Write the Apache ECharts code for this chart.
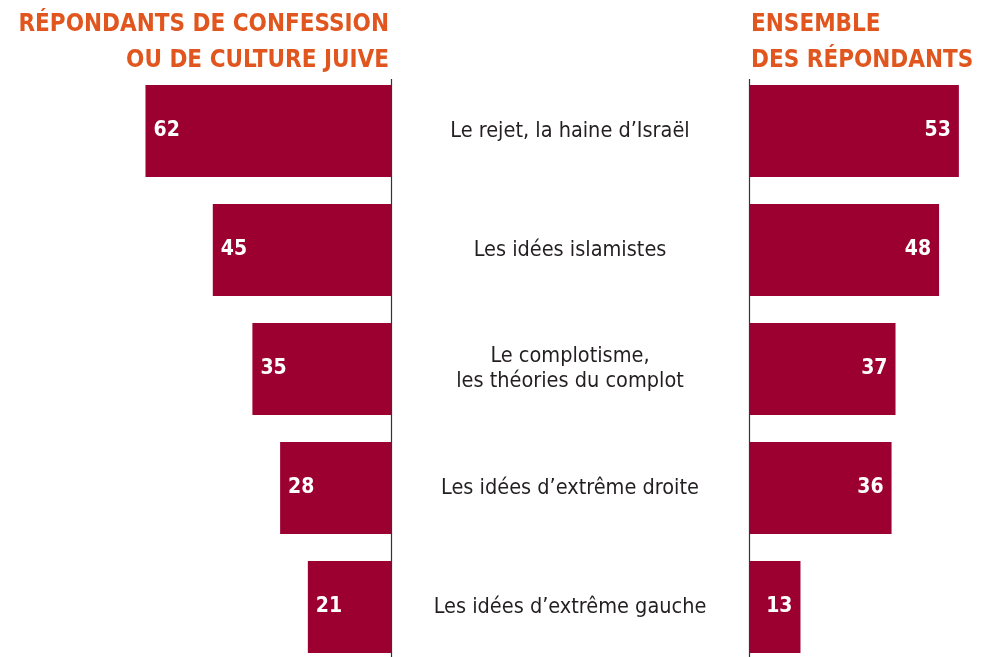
<!DOCTYPE html>
<html>
<head>
<meta charset="utf-8">
<script src="https://cdn.jsdelivr.net/npm/echarts@6/dist/echarts.min.js"></script>
<style>
  html, body { margin: 0; padding: 0; background: #fff; }
  #chart { width: 982px; height: 657px; }
</style>
</head>
<body>
<div id="chart"></div>
<script>
// données
const categories = [
    'Le rejet, la haine d’Israël',
    'Les idées islamistes',
    'Le complotisme,\nles théories du complot',
    'Les idées d’extrême droite',
    'Les idées d’extrême gauche',
];
const juifs = [62, 45, 35, 28, 21]; // répondants de confession ou de culture juive
const ensemble = [53, 48, 37, 36, 13]; // ensemble des répondants

const FONT = '"Liberation Sans Narrow", "DejaVu Sans Condensed", "Roboto", sans-serif';
const BAR = '#9c0030';
const ORANGE = '#e0561e';

const chart = echarts.init(document.getElementById('chart'));

// catégories posées sur les graduations (boundaryGap false) : la grille va du 1er au dernier centre
const catAxis = {
    type: 'category',
    data: categories,
    inverse: true,
    boundaryGap: false,
    axisLine: { show: false },
    axisTick: { show: false },
    splitLine: { show: false },
};

const valueLabel = {
    show: true,
    distance: 8,
    color: '#fff',
    fontFamily: FONT,
    fontWeight: 'bold',
    fontSize: 21,
};

const option = {
    animation: false,
    textStyle: { fontFamily: FONT },
    grid: [
        { left: 34.6, top: 131, width: 356.4, height: 476 },
        { left: 749, top: 131, width: 217.8, height: 476 },
    ],
    xAxis: [
        { gridIndex: 0, type: 'value', min: 0, max: 90, inverse: true, show: false },
        { gridIndex: 1, type: 'value', min: 0, max: 55, show: false },
    ],
    yAxis: [
        Object.assign({}, catAxis, {
            gridIndex: 0,
            position: 'right',
            axisLabel: {
                margin: 179,
                align: 'center',
                color: '#231f20',
                fontFamily: FONT,
                fontSize: 21.5,
                lineHeight: 25,
            },
        }),
        Object.assign({}, catAxis, {
            gridIndex: 1,
            axisLabel: { show: false },
        }),
    ],
    series: [
        {
            type: 'bar',
            xAxisIndex: 0,
            yAxisIndex: 0,
            data: juifs,
            barWidth: 92,
            clip: false,
            itemStyle: { color: BAR },
            label: Object.assign({}, valueLabel, { position: 'insideLeft' }),
        },
        {
            type: 'bar',
            xAxisIndex: 1,
            yAxisIndex: 1,
            data: ensemble,
            barWidth: 92,
            clip: false,
            itemStyle: { color: BAR },
            label: Object.assign({}, valueLabel, { position: 'insideRight' }),
        },
    ],
    graphic: [
        {
            type: 'text',
            x: 389,
            y: 7,
            style: {
                text: 'RÉPONDANTS DE CONFESSION\nOU DE CULTURE JUIVE',
                textAlign: 'right',
                textVerticalAlign: 'top',
                fill: ORANGE,
                font: 'bold 24px ' + FONT,
                lineHeight: 36,
            },
        },
        {
            type: 'text',
            x: 751,
            y: 7,
            style: {
                text: 'ENSEMBLE\nDES RÉPONDANTS',
                textAlign: 'left',
                textVerticalAlign: 'top',
                fill: ORANGE,
                font: 'bold 24px ' + FONT,
                lineHeight: 36,
            },
        },
        // axes verticaux
        {
            type: 'line',
            shape: { x1: 391.5, y1: 79, x2: 391.5, y2: 657 },
            style: { stroke: '#333', lineWidth: 1.2 },
            z: 10,
        },
        {
            type: 'line',
            shape: { x1: 749.5, y1: 79, x2: 749.5, y2: 657 },
            style: { stroke: '#333', lineWidth: 1.2 },
            z: 10,
        },
    ],
};

chart.setOption(option);
</script>
</body>
</html>
